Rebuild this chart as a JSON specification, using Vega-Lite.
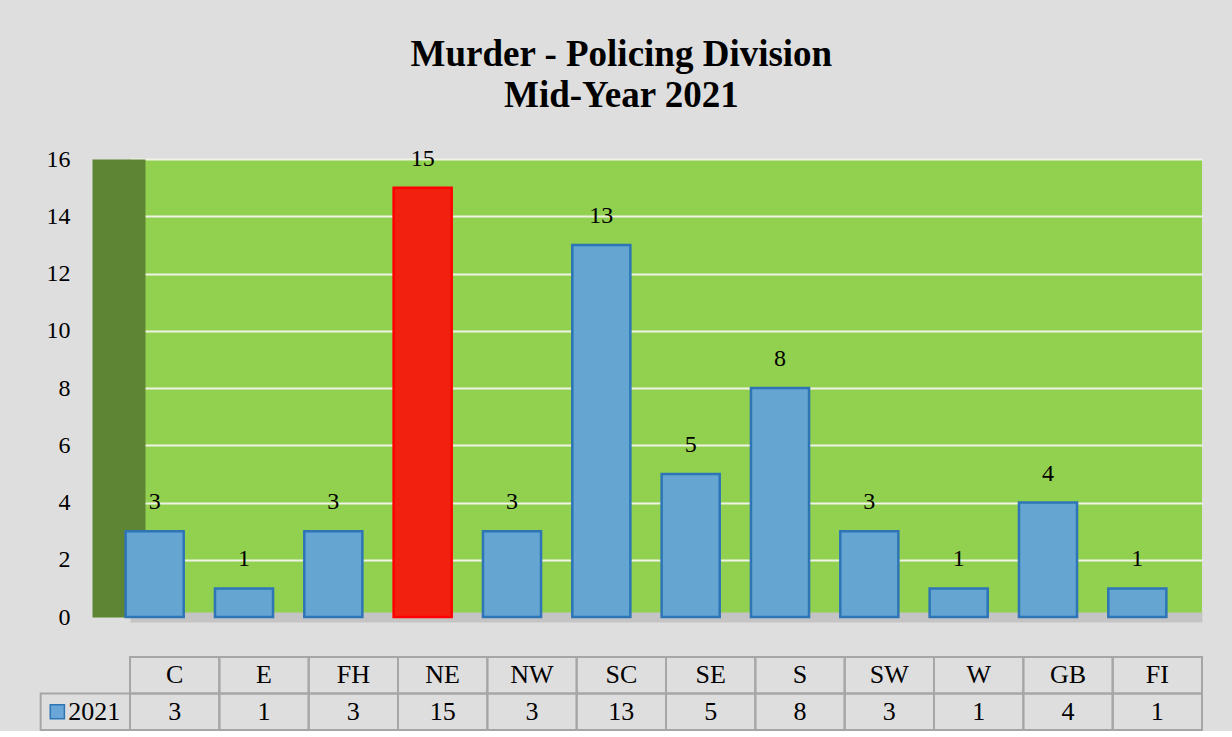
{
  "$schema": "https://vega.github.io/schema/vega-lite/v6.json",
  "background": "#dedede",
  "padding": {"left": 39, "top": 35, "right": 32, "bottom": 0},
  "autosize": {"type": "pad"},
  "title": {
    "text": ["Murder - Policing Division", "Mid-Year 2021"],
    "font": "Liberation Serif",
    "fontSize": 37,
    "fontWeight": "bold",
    "color": "#000000",
    "lineHeight": 41,
    "anchor": "middle",
    "offset": 32
  },
  "datasets": {
    "murder": [
      {"div": "C", "n": 3},
      {"div": "E", "n": 1},
      {"div": "FH", "n": 3},
      {"div": "NE", "n": 15},
      {"div": "NW", "n": 3},
      {"div": "SC", "n": 13},
      {"div": "SE", "n": 5},
      {"div": "S", "n": 8},
      {"div": "SW", "n": 3},
      {"div": "W", "n": 1},
      {"div": "GB", "n": 4},
      {"div": "FI", "n": 1}
    ]
  },
  "spacing": 27,
  "vconcat": [
    {
      "width": 1072,
      "height": 458,
      "data": {"name": "murder"},
      "view": {"fill": "#92d050", "stroke": null},
      "encoding": {
        "x": {
          "field": "div",
          "type": "nominal",
          "sort": null,
          "scale": {"paddingInner": 0, "paddingOuter": 0},
          "axis": {"title": null, "labels": false, "ticks": false, "domain": true, "domainColor": "#c4c4c4", "domainWidth": 10}
        },
        "y": {
          "field": "n",
          "type": "quantitative",
          "scale": {"domain": [0, 16], "nice": false},
          "axis": {
            "title": null,
            "values": [0, 2, 4, 6, 8, 10, 12, 14, 16],
            "grid": true,
            "gridColor": "#eef3e6",
            "gridWidth": 2,
            "domain": true,
            "domainColor": "#5e8533",
            "domainWidth": 53,
            "offset": 11.5,
            "ticks": false,
            "tickSize": 0,
            "labelPadding": 48.5,
            "labelFont": "Liberation Serif",
            "labelFontSize": 24,
            "labelColor": "#000000",
            "minExtent": 78,
            "maxExtent": 78
          }
        }
      },
      "layer": [
        {
          "mark": {"type": "bar", "width": {"band": 0.65}, "xOffset": -20, "strokeWidth": 2.5},
          "encoding": {
            "fill": {"condition": {"test": "datum.div === 'NE'", "value": "#f2210f"}, "value": "#64a5d2"},
            "stroke": {"condition": {"test": "datum.div === 'NE'", "value": "#ff0000"}, "value": "#2e75b6"}
          }
        },
        {
          "mark": {"type": "text", "xOffset": -20, "dy": -22, "baseline": "alphabetic", "font": "Liberation Serif", "fontSize": 24, "color": "#000000"},
          "encoding": {"text": {"field": "n", "type": "quantitative"}}
        }
      ]
    },
    {
      "width": 1072,
      "height": 73,
      "view": {"stroke": null},
      "layer": [
        {
          "data": {"name": "murder"},
          "mark": {"type": "rect", "filled": false, "stroke": "#a6a6a6", "strokeWidth": 2},
          "encoding": {
            "x": {"field": "div", "type": "nominal", "scale": {"domain": ["hdr", "C", "E", "FH", "NE", "NW", "SC", "SE", "S", "SW", "W", "GB", "FI"], "range": [-89.33, 1072], "paddingInner": 0, "paddingOuter": 0}, "axis": null},
            "y": {"datum": "h", "type": "nominal", "scale": {"domain": ["h", "v"], "paddingInner": 0, "paddingOuter": 0}, "axis": null}
          }
        },
        {
          "data": {"name": "murder"},
          "mark": {"type": "rect", "filled": false, "stroke": "#a6a6a6", "strokeWidth": 2},
          "encoding": {
            "x": {"field": "div", "type": "nominal"},
            "y": {"datum": "v", "type": "nominal"}
          }
        },
        {
          "data": {"name": "murder"},
          "mark": {"type": "text", "font": "Liberation Serif", "fontSize": 26, "color": "#000000"},
          "encoding": {
            "x": {"field": "div", "type": "nominal"},
            "y": {"datum": "h", "type": "nominal"},
            "text": {"field": "div"}
          }
        },
        {
          "data": {"name": "murder"},
          "mark": {"type": "text", "font": "Liberation Serif", "fontSize": 26, "color": "#000000"},
          "encoding": {
            "x": {"field": "div", "type": "nominal"},
            "y": {"datum": "v", "type": "nominal"},
            "text": {"field": "n", "type": "quantitative"}
          }
        },
        {
          "data": {"values": [{"series": "2021"}]},
          "layer": [
            {
              "mark": {"type": "rect", "filled": false, "stroke": "#a6a6a6", "strokeWidth": 2},
              "encoding": {
                "x": {"datum": "hdr", "type": "nominal"},
                "y": {"datum": "v", "type": "nominal"}
              }
            },
            {
              "mark": {"type": "text", "font": "Liberation Serif", "fontSize": 26, "color": "#000000", "dx": 9},
              "encoding": {
                "x": {"datum": "hdr", "type": "nominal"},
                "y": {"datum": "v", "type": "nominal"},
                "text": {"field": "series"}
              }
            },
            {
              "mark": {"type": "point", "shape": "square", "size": 200, "filled": true, "fill": "#6aa6d8", "stroke": "#2e75b6", "strokeWidth": 1.5, "opacity": 1, "xOffset": -28},
              "encoding": {
                "x": {"datum": "hdr", "type": "nominal"},
                "y": {"datum": "v", "type": "nominal"}
              }
            }
          ]
        }
      ]
    }
  ],
  "config": {"font": "Liberation Serif", "view": {"stroke": null}}
}
